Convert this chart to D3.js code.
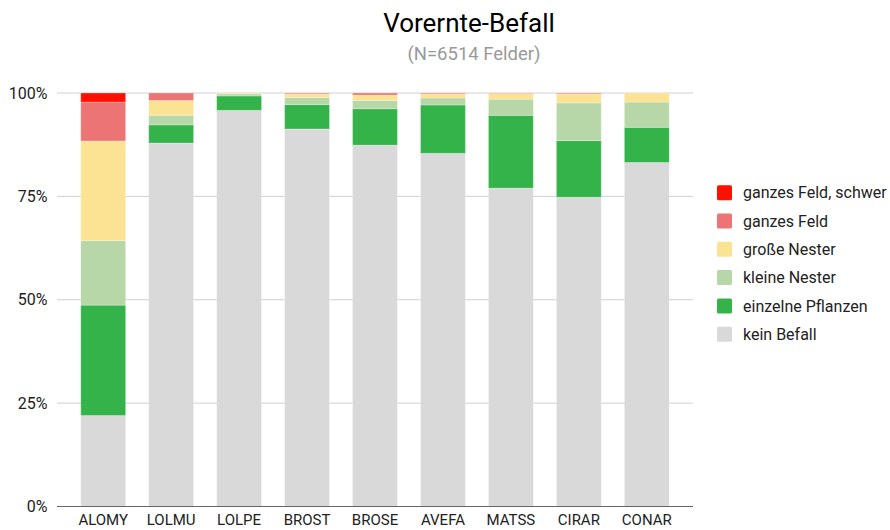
<!DOCTYPE html>
<html>
<head>
<meta charset="utf-8">
<script src="https://cdn.jsdelivr.net/npm/d3@7"></script>
<style>
    body { margin: 0; background: #fff; }
    svg { font-family: Roboto, "Noto Sans", sans-serif; }
</style>
</head>
<body>
<svg id="chart"></svg>
<script>
// chart data (percent of fields)
var categories = ['ALOMY', 'LOLMU', 'LOLPE', 'BROST', 'BROSE', 'AVEFA', 'MATSS', 'CIRAR', 'CONAR'];
var seriesNames = ['kein Befall', 'einzelne Pflanzen', 'kleine Nester', 'große Nester', 'ganzes Feld', 'ganzes Feld, schwer'];
var keinBefall = [22.0, 87.9, 95.8, 91.3, 87.4, 85.4, 77.0, 74.8, 83.2];
var einzelnePflanzen = [26.7, 4.4, 3.5, 5.9, 8.8, 11.7, 17.6, 13.7, 8.5];
var kleineNester = [15.6, 2.3, 0.5, 1.7, 2.0, 1.7, 3.9, 9.1, 6.1];
var grosseNester = [24.1, 3.6, 0.2, 0.9, 1.3, 1.0, 1.4, 2.2, 2.2];
var ganzesFeld = [9.4, 1.8, 0, 0.2, 0.5, 0.2, 0.1, 0.2, 0];
var ganzesFeldSchwer = [2.2, 0, 0, 0, 0, 0, 0, 0, 0];
var yTicks = [0, 25, 50, 75, 100];
var title = 'Vorernte-Befall';
var subtitle = '(N=6514 Felder)';

(function() {
    'use strict';

    var WIDTH = 890, HEIGHT = 530;
    var margin = { top: 93, right: 197, bottom: 23.5, left: 57 };
    var colors = ['#d9d9d9', '#34b34a', '#b7d7a8', '#fce293', '#ec7474', '#ff1000'];

    var svg = d3.select('#chart').attr('width', WIDTH).attr('height', HEIGHT);

    var values = [keinBefall, einzelnePflanzen, kleineNester, grosseNester, ganzesFeld, ganzesFeldSchwer];
    var rows = categories.map((c, i) => {
        var row = { cat: c };
        seriesNames.forEach((s, j) => { row[s] = values[j][i]; });
        return row;
    });
    var stacked = d3.stack().keys(seriesNames)(rows);

    var x = d3.scaleBand()
        .domain(categories)
        .range([margin.left, WIDTH - margin.right])
        .paddingInner(0.34)
        .paddingOuter(0.35);

    var y = d3.scaleLinear()
        .domain([0, 100])
        .range([HEIGHT - margin.bottom, margin.top]);

    // gridlines
    svg.append('g')
        .selectAll('line')
        .data(yTicks.slice(1))
        .enter()
        .append('line')
            .attr('x1', margin.left)
            .attr('x2', WIDTH - margin.right)
            .attr('y1', d => y(d))
            .attr('y2', d => y(d))
            .attr('stroke', '#d0d0d0')
            .attr('stroke-width', 1);

    // bars
    svg.append('g')
        .selectAll('g')
        .data(stacked)
        .enter()
        .append('g')
            .attr('fill', (d, i) => colors[i])
        .selectAll('rect')
        .data(d => d)
        .enter()
        .append('rect')
            .attr('x', d => x(d.data.cat))
            .attr('width', x.bandwidth())
            .attr('y', d => y(d[1]))
            .attr('height', d => Math.max(0, y(d[0]) - y(d[1])))
            .attr('stroke', '#ffffff')
            .attr('stroke-opacity', 0.25)
            .attr('stroke-width', 1);

    // baseline
    svg.append('line')
        .attr('x1', margin.left)
        .attr('x2', WIDTH - margin.right)
        .attr('y1', y(0))
        .attr('y2', y(0))
        .attr('stroke', '#666')
        .attr('stroke-width', 1);

    // y axis labels
    var yAxis = d3.axisLeft(y)
        .tickValues(yTicks)
        .tickFormat(d => d + '%')
        .tickSize(0)
        .tickPadding(9.5);
    var gy = svg.append('g')
        .attr('transform', 'translate(' + margin.left + ',0)')
        .call(yAxis);
    gy.select('.domain').remove();
    gy.selectAll('text')
        .attr('font-size', 16)
        .attr('font-family', 'Roboto, sans-serif')
        .attr('fill', '#222');

    // x axis labels
    var xAxis = d3.axisBottom(x).tickSize(0).tickPadding(8);
    var gx = svg.append('g')
        .attr('transform', 'translate(0,' + y(0) + ')')
        .call(xAxis);
    gx.select('.domain').remove();
    gx.selectAll('text')
        .attr('font-size', 15)
        .attr('font-family', 'Roboto, sans-serif')
        .attr('fill', '#222');

    // titles
    svg.append('text')
        .attr('x', 469)
        .attr('y', 31.5)
        .attr('text-anchor', 'middle')
        .attr('font-size', 26)
        .attr('fill', '#000')
        .text(title);

    svg.append('text')
        .attr('x', 474)
        .attr('y', 59.5)
        .attr('text-anchor', 'middle')
        .attr('font-size', 18.5)
        .attr('fill', '#999')
        .text(subtitle);

    // legend, top entry is the last series
    var legendRows = seriesNames.map((s, i) => ({ name: s, color: colors[i] })).reverse();
    var legend = svg.append('g')
        .selectAll('g')
        .data(legendRows)
        .enter()
        .append('g')
            .attr('transform', (d, i) => 'translate(717,' + (192.7 + i * 28.3) + ')');

    legend.append('rect')
        .attr('x', 0)
        .attr('y', -7.5)
        .attr('width', 15)
        .attr('height', 15)
        .attr('rx', 1.5)
        .attr('fill', d => d.color);

    legend.append('text')
        .attr('x', 26)
        .attr('y', 0)
        .attr('dy', '0.35em')
        .attr('font-size', 16)
        .attr('fill', '#222')
        .text(d => d.name);
})();
</script>
</body>
</html>
